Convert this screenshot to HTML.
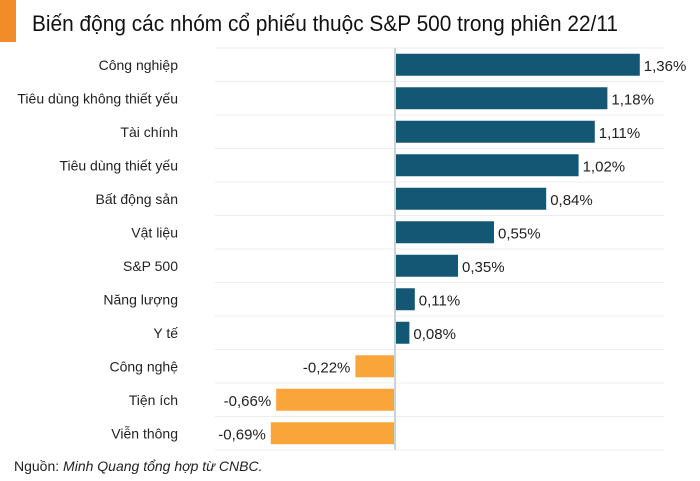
<!DOCTYPE html>
<html><head><meta charset="utf-8"><style>
body{margin:0;background:#fff;width:700px;height:481px;overflow:hidden;font-family:"Liberation Sans","DejaVu Sans",sans-serif;}
</style></head><body>
<svg width="700" height="481" style="position:absolute;left:0;top:0">
<rect x="0" y="0" width="16" height="42" fill="#F28C28"/>
<text x="32" y="31" font-size="22" fill="#111" textLength="586" lengthAdjust="spacingAndGlyphs">Biến động các nhóm cổ phiếu thuộc S&amp;P 500 trong phiên 22/11</text>
<g id="plot"></g>
<text x="14" y="471" font-size="14" fill="#222">Nguồn: <tspan font-style="italic">Minh Quang tổng hợp từ CNBC.</tspan></text>
</svg>
<script>
const categories=["Công nghiệp","Tiêu dùng không thiết yếu","Tài chính","Tiêu dùng thiết yếu","Bất động sản","Vật liệu","S&P 500","Năng lượng","Y tế","Công nghệ","Tiện ích","Viễn thông"];
const values=[1.36,1.18,1.11,1.02,0.84,0.55,0.35,0.11,0.08,-0.22,-0.66,-0.69];
const valueLabels=["1,36%","1,18%","1,11%","1,02%","0,84%","0,55%","0,35%","0,11%","0,08%","-0,22%","-0,66%","-0,69%"];
const NS="http://www.w3.org/2000/svg";
const g=document.getElementById('plot');
const x0=395,scale=180,top0=48,rowH=33.5,barH=22;
const xs=v=>x0+v*scale;
const yRow=i=>top0+i*rowH;
function mk(t,a){const e=document.createElementNS(NS,t);for(const k in a)e.setAttribute(k,a[k]);g.appendChild(e);return e;}
for(let i=0;i<=categories.length;i++){
 const l=mk('line',{x1:215,x2:664,y1:yRow(i),y2:yRow(i),stroke:'#ececec','stroke-width':1});
 
 
}
categories.forEach((c,i)=>{
 const v=values[i],cy=yRow(i)+rowH/2;
 const x=Math.min(xs(0),xs(v)),w=Math.abs(xs(v)-xs(0));
 const r=mk('rect',{x:x,y:cy-barH/2,width:w,height:barH,fill:v>=0?'#145775':'#F9A53A'});
 
 
 const t=mk('text',{x:178,y:cy+5,'font-size':14,'text-anchor':'end',fill:'#222'});
 t.textContent=c;
 
 
 const vl=mk('text',{x:v>=0?xs(v)+4:xs(v)-5,y:cy+6,'font-size':15,'text-anchor':v>=0?'start':'end',fill:'#222'});
 vl.textContent=valueLabels[i];
 
 
});
const ax=mk('line',{x1:x0,x2:x0,y1:top0,y2:yRow(categories.length),stroke:'#c9d3dc','stroke-width':2});


</script>
</body></html>
